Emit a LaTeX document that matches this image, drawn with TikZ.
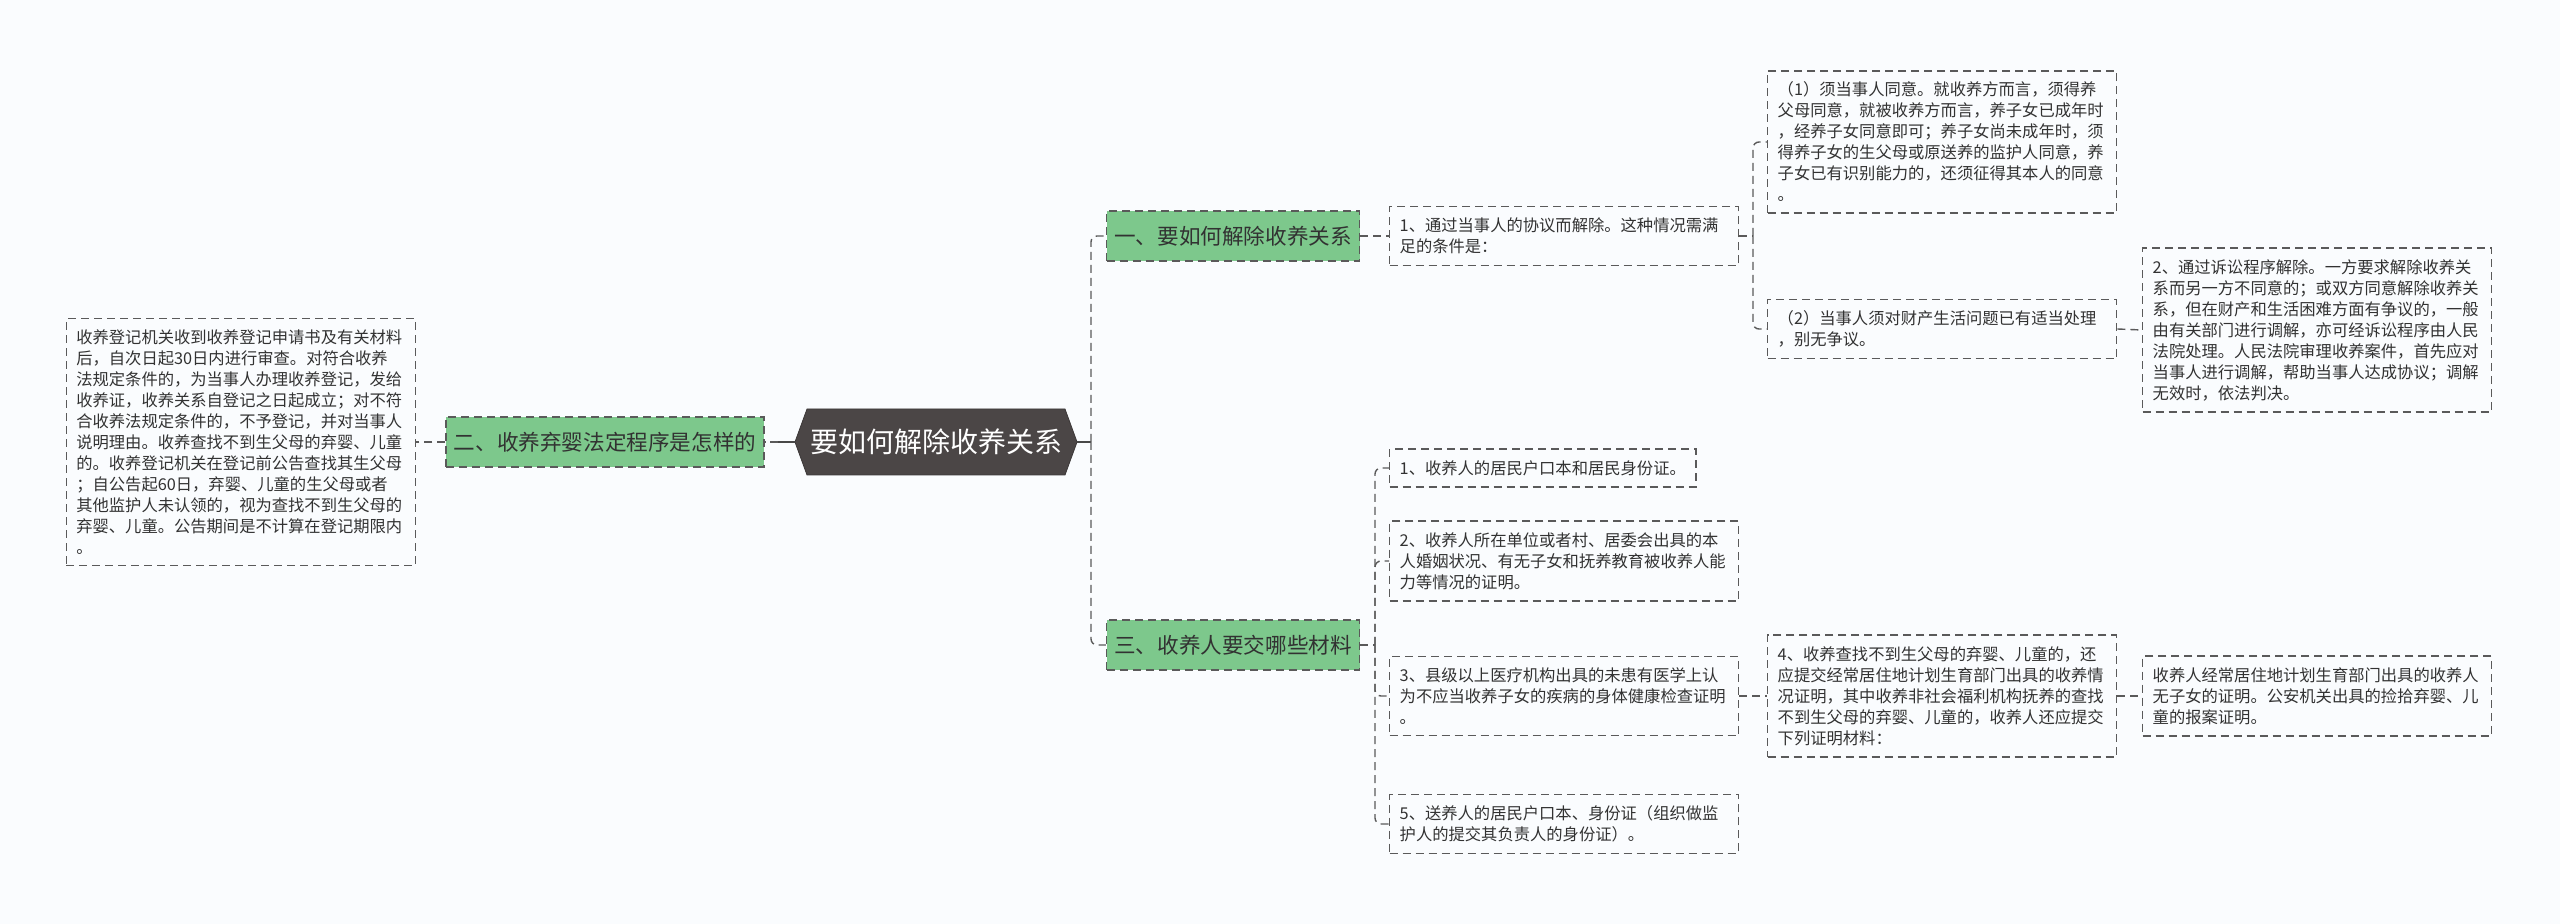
\documentclass[tikz,border=0pt]{standalone}
\usepackage{fontspec}
\newfontfamily\cjk{Noto Sans CJK SC}
\usetikzlibrary{positioning,shapes.symbols}

\definecolor{pagebg}{RGB}{250,252,254}
\definecolor{topicgray}{RGB}{75,70,70}
\definecolor{branchgreen}{RGB}{125,200,140}
\definecolor{linegray}{RGB}{90,90,90}
\definecolor{textgray}{RGB}{50,50,50}

\tikzset{
  leaf/.style={draw=linegray, dash pattern=on 4pt off 2.5pt, line width=0.7pt,
    fill=pagebg, text=textgray, font=\cjk\fontsize{8.15}{10.5}\selectfont,
    align=left, inner xsep=5pt, inner ysep=5.6pt, anchor=west},
  wide/.style={text width=164.5pt},
  branch/.style={draw=linegray, dash pattern=on 4pt off 2.5pt, line width=0.7pt,
    fill=branchgreen, text=textgray, font=\cjk\fontsize{10.8}{13}\selectfont,
    minimum height=25pt, inner sep=0pt},
  topic/.style={signal, signal to=east and west, signal pointer angle=140,
    fill=topicgray, draw=topicgray!80!black, text=white,
    font=\cjk\fontsize{14}{16}\selectfont, minimum width=141pt, minimum height=33pt, inner sep=0pt},
  link/.style={draw=linegray, dash pattern=on 4pt off 2.5pt, line width=0.7pt, rounded corners=3pt},
  stem/.style={draw=linegray!80!black, line width=1.1pt},
}

\begin{document}
\begin{tikzpicture}[x=0.5pt, y=-0.5pt]
  \fill[pagebg] (0,0) rectangle (2560,924);
  \useasboundingbox (0,0) rectangle (2560,924);

  % centre
  \node[topic] (root) at (936,442) {要如何解除收养关系};

  % branches
  \node[branch, minimum width=126.5pt] (b1) at (1233,236) {一、要如何解除收养关系};
  \node[branch, minimum width=159pt] (b2) at (605,442) {二、收养弃婴法定程序是怎样的};
  \node[branch, minimum width=126.5pt] (b3) at (1233,645) {三、收养人要交哪些材料};

  % left side
  \node[leaf, wide, anchor=east] (l1) at (416,442) {收养登记机关收到收养登记申请书及有关材料\\后，自次日起30日内进行审查。对符合收养\\法规定条件的，为当事人办理收养登记，发给\\收养证，收养关系自登记之日起成立；对不符\\合收养法规定条件的，不予登记，并对当事人\\说明理由。收养查找不到生父母的弃婴、儿童\\的。收养登记机关在登记前公告查找其生父母\\；自公告起60日，弃婴、儿童的生父母或者\\其他监护人未认领的，视为查找不到生父母的\\弃婴、儿童。公告期间是不计算在登记期限内\\。};

  % how to dissolve
  \node[leaf, wide] (a1) at (1389,236) {1、通过当事人的协议而解除。这种情况需满\\足的条件是：};
  \node[leaf, wide] (c1) at (1767,142) {（1）须当事人同意。就收养方而言，须得养\\父母同意，就被收养方而言，养子女已成年时\\，经养子女同意即可；养子女尚未成年时，须\\得养子女的生父母或原送养的监护人同意，养\\子女已有识别能力的，还须征得其本人的同意\\。};
  \node[leaf, wide] (c2) at (1767,329) {（2）当事人须对财产生活问题已有适当处理\\，别无争议。};
  \node[leaf, wide] (d1) at (2142,330) {2、通过诉讼程序解除。一方要求解除收养关\\系而另一方不同意的；或双方同意解除收养关\\系，但在财产和生活困难方面有争议的，一般\\由有关部门进行调解，亦可经诉讼程序由人民\\法院处理。人民法院审理收养案件，首先应对\\当事人进行调解，帮助当事人达成协议；调解\\无效时，依法判决。};

  % materials
  \node[leaf] (m1) at (1389,468) {1、收养人的居民户口本和居民身份证。};
  \node[leaf, wide] (m2) at (1389,561) {2、收养人所在单位或者村、居委会出具的本\\人婚姻状况、有无子女和抚养教育被收养人能\\力等情况的证明。};
  \node[leaf, wide] (m3) at (1389,696) {3、县级以上医疗机构出具的未患有医学上认\\为不应当收养子女的疾病的身体健康检查证明\\。};
  \node[leaf, wide] (m4) at (1767,696) {4、收养查找不到生父母的弃婴、儿童的，还\\应提交经常居住地计划生育部门出具的收养情\\况证明，其中收养非社会福利机构抚养的查找\\不到生父母的弃婴、儿童的，收养人还应提交\\下列证明材料：};
  \node[leaf, wide] (m6) at (2142,696) {收养人经常居住地计划生育部门出具的收养人\\无子女的证明。公安机关出具的捡拾弃婴、儿\\童的报案证明。};
  \node[leaf, wide] (m5) at (1389,824) {5、送养人的居民户口本、身份证（组织做监\\护人的提交其负责人的身份证）。};

  % junctions
  \coordinate (jl) at (778,442);
  \coordinate (jr) at (1091,442);
  \coordinate (ja) at (1753,236);
  \coordinate (jm) at (1375,645);

  % connectors
  \draw[stem] (root.west) -- (jl);
  \draw[link] (jl) -- (b2.east);
  \draw[link] (b2.west) -- (l1.east);
  \draw[stem] (root.east) -- (jr);
  \draw[link] (jr) |- (b1.west);
  \draw[link] (jr) |- (b3.west);
  \draw[link] (b1.east) -- (a1.west);
  \draw[link] (a1.east) -- (ja);
  \draw[link] (ja) |- (c1.west);
  \draw[link] (ja) |- (c2.west);
  \draw[link] (c2.east) -- (d1.west);
  \draw[link] (b3.east) -- (jm);
  \draw[link] (jm) |- (m1.west);
  \draw[link] (jm) |- (m2.west);
  \draw[link] (jm) |- (m3.west);
  \draw[link] (jm) |- (m5.west);
  \draw[link] (m3.east) -- (m4.west);
  \draw[link] (m4.east) -- (m6.west);
\end{tikzpicture}
\end{document}
